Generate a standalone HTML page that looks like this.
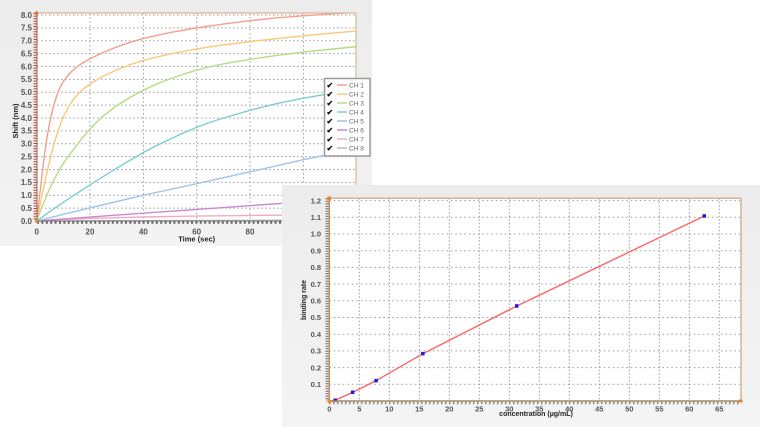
<!DOCTYPE html>
<html>
<head>
<meta charset="utf-8">
<style>
html,body{margin:0;padding:0;background:#fff;}
svg{display:block;}
text{font-family:"Liberation Sans",Arial,sans-serif;}
</style>
</head>
<body>
<svg width="760" height="427" viewBox="0 0 760 427" xmlns="http://www.w3.org/2000/svg">
<defs>
  <linearGradient id="gp1" x1="0" y1="0" x2="0" y2="1">
    <stop offset="0" stop-color="#ececec"/>
    <stop offset="1" stop-color="#f3f3f3"/>
  </linearGradient>
  <linearGradient id="gp2" x1="0" y1="0" x2="0" y2="1">
    <stop offset="0" stop-color="#ececec"/>
    <stop offset="1" stop-color="#f4f4f4"/>
  </linearGradient>
  <clipPath id="c1"><rect x="37" y="13" width="319" height="208"/></clipPath>
  <clipPath id="c2"><rect x="329.3" y="198.3" width="411.7" height="202.7"/></clipPath>
</defs>

<rect x="0" y="0" width="760" height="427" fill="#fff"/>

<!-- ================= TOP CHART ================= -->
<rect x="0" y="0" width="372" height="246" fill="url(#gp1)"/>
<rect x="37" y="13" width="319" height="208" fill="#fff"/>

<g stroke="#9a9a9a" stroke-width="1" stroke-dasharray="1.5 2.5" fill="none">
  <line x1="37" x2="356" y1="208.1" y2="208.1"/>
  <line x1="37" x2="356" y1="195.25" y2="195.25"/>
  <line x1="37" x2="356" y1="182.4" y2="182.4"/>
  <line x1="37" x2="356" y1="169.5" y2="169.5"/>
  <line x1="37" x2="356" y1="156.6" y2="156.6"/>
  <line x1="37" x2="356" y1="143.75" y2="143.75"/>
  <line x1="37" x2="356" y1="130.9" y2="130.9"/>
  <line x1="37" x2="356" y1="118" y2="118"/>
  <line x1="37" x2="356" y1="105.1" y2="105.1"/>
  <line x1="37" x2="356" y1="92.25" y2="92.25"/>
  <line x1="37" x2="356" y1="79.4" y2="79.4"/>
  <line x1="37" x2="356" y1="66.5" y2="66.5"/>
  <line x1="37" x2="356" y1="53.6" y2="53.6"/>
  <line x1="37" x2="356" y1="40.75" y2="40.75"/>
  <line x1="37" x2="356" y1="27.9" y2="27.9"/>
  <line x1="37" x2="356" y1="15" y2="15"/>
  <line y1="13" y2="221" x1="90" x2="90"/>
  <line y1="13" y2="221" x1="143.4" x2="143.4"/>
  <line y1="13" y2="221" x1="196.7" x2="196.7"/>
  <line y1="13" y2="221" x1="250" x2="250"/>
  <line y1="13" y2="221" x1="303.4" x2="303.4"/>
</g>

<g clip-path="url(#c1)">
 <g transform="translate(36.7 221) scale(2.6667 -25.75)" fill="none" stroke-width="1.4" stroke-linejoin="round" stroke-linecap="round">
  <polyline vector-effect="non-scaling-stroke" stroke="#bdbdbd" points="0,0 120,0.04"/>
  <polyline vector-effect="non-scaling-stroke" stroke="#f6a8c8" points="0,0 10,0.06 20,0.1 40,0.155 60,0.19 90,0.225 120,0.26"/>
  <polyline vector-effect="non-scaling-stroke" stroke="#c88ad0" points="0,0 30,0.23 60,0.45 90,0.67 120,0.89"/>
  <polyline vector-effect="non-scaling-stroke" stroke="#9cc4ec" points="0,0 10,0.26 20,0.51 40,1.0 60,1.45 80,1.91 100,2.38 120,2.8"/>
  <polyline vector-effect="non-scaling-stroke" stroke="#7ccfcf" points="0,0 5,0.37 10,0.73 15,1.07 20,1.4 25,1.73 30,2.05 35,2.36 40,2.66 45,2.93 50,3.18 55,3.42 60,3.64 65,3.83 70,4.0 80,4.3 90,4.56 100,4.77 110,4.95 120,5.1"/>
  <polyline vector-effect="non-scaling-stroke" stroke="#b5dc84" points="0,0 2,0.55 4,1.05 6,1.5 8,1.9 10,2.24 13,2.67 16,3.08 19.4,3.5 22,3.79 25,4.08 30,4.48 35,4.8 40,5.08 45,5.32 50,5.52 55,5.7 60,5.86 65,5.99 70,6.1 80,6.28 90,6.43 100,6.56 110,6.67 120,6.77"/>
  <polyline vector-effect="non-scaling-stroke" stroke="#fdc77a" points="0,0 1,0.5 2,1.0 3,1.5 4,1.96 5,2.4 6,2.8 7,3.17 8,3.5 9,3.79 10,4.04 12,4.45 14,4.76 17,5.08 20,5.32 25,5.63 30,5.87 35,6.07 40,6.24 50,6.49 60,6.68 70,6.84 80,6.97 90,7.08 100,7.19 110,7.29 120,7.38"/>
  <polyline vector-effect="non-scaling-stroke" stroke="#f4a08c" points="0,0 1,0.9 2,1.8 3,2.63 4,3.33 5,3.88 6,4.33 7,4.7 8,5.0 9,5.23 10,5.42 11.5,5.63 13,5.8 15,5.98 17,6.12 20,6.3 25,6.55 30,6.76 35,6.94 40,7.09 50,7.32 60,7.5 70,7.65 80,7.78 90,7.89 100,7.97 110,8.04 120,8.1"/>
 </g>
</g>

<line x1="37" y1="13" x2="356" y2="13" stroke="#d8b898" stroke-width="1.2"/>
<line x1="356" y1="13" x2="356" y2="221" stroke="#d8b898" stroke-width="1.2"/>
<line x1="37" y1="13" x2="37" y2="221" stroke="#8a6a5a" stroke-width="1"/>
<line x1="35" y1="13" x2="35" y2="221" stroke="#c0402c" stroke-width="3" stroke-dasharray="1 1.6"/>
<line x1="37" y1="221" x2="356" y2="221" stroke="#777" stroke-width="1"/>
<line x1="37" y1="222.5" x2="356" y2="222.5" stroke="#666" stroke-width="2.5" stroke-dasharray="2 2.4"/>
<rect x="35" y="11.5" width="3" height="3" fill="#e86a30"/>
<rect x="35" y="219.5" width="3" height="3" fill="#e8902c"/>

<g font-size="8" font-weight="bold" fill="#555" text-anchor="end">
  <text x="32" y="223.8">0.0</text>
  <text x="32" y="211">0.5</text>
  <text x="32" y="198.1">1.0</text>
  <text x="32" y="185.2">1.5</text>
  <text x="32" y="172.3">2.0</text>
  <text x="32" y="159.4">2.5</text>
  <text x="32" y="146.6">3.0</text>
  <text x="32" y="133.7">3.5</text>
  <text x="32" y="120.8">4.0</text>
  <text x="32" y="107.9">4.5</text>
  <text x="32" y="95.1">5.0</text>
  <text x="32" y="82.2">5.5</text>
  <text x="32" y="69.3">6.0</text>
  <text x="32" y="56.4">6.5</text>
  <text x="32" y="43.6">7.0</text>
  <text x="32" y="30.7">7.5</text>
  <text x="32" y="17.8">8.0</text>
</g>
<g font-size="8" font-weight="bold" fill="#555" text-anchor="middle">
  <text x="36.7" y="234.5">0</text>
  <text x="90" y="234.5">20</text>
  <text x="143.4" y="234.5">40</text>
  <text x="196.7" y="234.5">60</text>
  <text x="250" y="234.5">80</text>
  <text x="303.4" y="234.5">100</text>
</g>
<text x="196.7" y="241.5" font-size="7.5" font-weight="bold" fill="#222" text-anchor="middle">Time (sec)</text>
<text transform="translate(18 121) rotate(-90)" font-size="7.5" font-weight="bold" fill="#222" text-anchor="middle">Shift (nm)</text>

<rect x="324.5" y="78.5" width="45.5" height="77.5" fill="#fff" stroke="#9a9a9a" stroke-width="1.5"/>
<g font-size="8" fill="#111" font-weight="bold">
  <text x="326.5" y="88">✔</text>
  <text x="326.5" y="97">✔</text>
  <text x="326.5" y="106">✔</text>
  <text x="326.5" y="115">✔</text>
  <text x="326.5" y="124">✔</text>
  <text x="326.5" y="133">✔</text>
  <text x="326.5" y="142">✔</text>
  <text x="326.5" y="151">✔</text>
</g>
<g stroke-width="1.5">
  <line x1="337" x2="347" y1="85" y2="85" stroke="#f4a08c"/>
  <line x1="337" x2="347" y1="94" y2="94" stroke="#fdc77a"/>
  <line x1="337" x2="347" y1="103" y2="103" stroke="#b5dc84"/>
  <line x1="337" x2="347" y1="112" y2="112" stroke="#7ccfcf"/>
  <line x1="337" x2="347" y1="121" y2="121" stroke="#9cc4ec"/>
  <line x1="337" x2="347" y1="130" y2="130" stroke="#c88ad0"/>
  <line x1="337" x2="347" y1="139" y2="139" stroke="#f6a8c8"/>
  <line x1="337" x2="347" y1="148" y2="148" stroke="#bdbdbd"/>
</g>
<g font-size="6.5" fill="#666">
  <text x="349" y="87.3">CH 1</text>
  <text x="349" y="96.3">CH 2</text>
  <text x="349" y="105.3">CH 3</text>
  <text x="349" y="114.3">CH 4</text>
  <text x="349" y="123.3">CH 5</text>
  <text x="349" y="132.3">CH 6</text>
  <text x="349" y="141.3">CH 7</text>
  <text x="349" y="150.3">CH 8</text>
</g>

<!-- ================= BOTTOM CHART ================= -->
<rect x="282" y="185" width="478" height="242" fill="url(#gp2)"/>
<rect x="329.3" y="198.3" width="411.7" height="202.7" fill="#fff"/>

<g stroke="#9a9a9a" stroke-width="1" stroke-dasharray="1.5 3" fill="none">
  <line x1="329.3" x2="741" y1="384.3" y2="384.3"/>
  <line x1="329.3" x2="741" y1="367.6" y2="367.6"/>
  <line x1="329.3" x2="741" y1="350.9" y2="350.9"/>
  <line x1="329.3" x2="741" y1="334.2" y2="334.2"/>
  <line x1="329.3" x2="741" y1="317.5" y2="317.5"/>
  <line x1="329.3" x2="741" y1="300.8" y2="300.8"/>
  <line x1="329.3" x2="741" y1="284.1" y2="284.1"/>
  <line x1="329.3" x2="741" y1="267.4" y2="267.4"/>
  <line x1="329.3" x2="741" y1="250.7" y2="250.7"/>
  <line x1="329.3" x2="741" y1="234" y2="234"/>
  <line x1="329.3" x2="741" y1="217.3" y2="217.3"/>
  <line x1="329.3" x2="741" y1="200.6" y2="200.6"/>
</g>
<g stroke="#9a9a9a" stroke-width="1" stroke-dasharray="1.5 2" fill="none">
  <line y1="198.3" y2="401" x1="359.3" x2="359.3"/>
  <line y1="198.3" y2="401" x1="389.3" x2="389.3"/>
  <line y1="198.3" y2="401" x1="419.3" x2="419.3"/>
  <line y1="198.3" y2="401" x1="449.3" x2="449.3"/>
  <line y1="198.3" y2="401" x1="479.3" x2="479.3"/>
  <line y1="198.3" y2="401" x1="509.3" x2="509.3"/>
  <line y1="198.3" y2="401" x1="539.3" x2="539.3"/>
  <line y1="198.3" y2="401" x1="569.3" x2="569.3"/>
  <line y1="198.3" y2="401" x1="599.3" x2="599.3"/>
  <line y1="198.3" y2="401" x1="629.3" x2="629.3"/>
  <line y1="198.3" y2="401" x1="659.3" x2="659.3"/>
  <line y1="198.3" y2="401" x1="689.3" x2="689.3"/>
  <line y1="198.3" y2="401" x1="719.3" x2="719.3"/>
</g>

<g clip-path="url(#c2)">
  <polyline fill="none" stroke="#ff6464" stroke-width="1.4" stroke-linejoin="round"
    points="329.3,401 335.2,400.2 352.7,392.3 376.1,380.7 422.9,353.7 516.8,306 704.3,216"/>
</g>
<g fill="#1c1cd8">
  <rect x="333.5" y="398.5" width="3.5" height="3.5"/>
  <rect x="350.9" y="390.5" width="3.5" height="3.5"/>
  <rect x="374.3" y="378.9" width="3.5" height="3.5"/>
  <rect x="421.1" y="351.9" width="3.5" height="3.5"/>
  <rect x="515" y="304.2" width="3.5" height="3.5"/>
  <rect x="702.5" y="214.2" width="3.5" height="3.5"/>
</g>

<line x1="329.3" y1="198.3" x2="741" y2="198.3" stroke="#d4b498" stroke-width="1.5"/>
<line x1="741" y1="198.3" x2="741" y2="401" stroke="#d4b498" stroke-width="1.5"/>
<line x1="327" y1="198.3" x2="327" y2="401" stroke="#666" stroke-width="3" stroke-dasharray="1 1.5"/>
<line x1="329.3" y1="198.3" x2="329.3" y2="401" stroke="#c89060" stroke-width="1.5"/>
<line x1="329.3" y1="403" x2="741" y2="403" stroke="#555" stroke-width="2.5" stroke-dasharray="1 3"/>
<line x1="329.3" y1="401" x2="741" y2="401" stroke="#a88868" stroke-width="1.6"/>
<rect x="327.5" y="196.5" width="3.5" height="3.5" fill="#f08020"/>
<rect x="739" y="399.5" width="3.5" height="3" fill="#f08020"/>
<rect x="327.5" y="399.5" width="3.5" height="3.5" fill="#f09020"/>

<g font-size="7.5" font-weight="bold" fill="#555" text-anchor="end">
  <text x="321" y="387">0.1</text>
  <text x="321" y="370.3">0.2</text>
  <text x="321" y="353.6">0.3</text>
  <text x="321" y="336.9">0.4</text>
  <text x="321" y="320.2">0.5</text>
  <text x="321" y="303.5">0.6</text>
  <text x="321" y="286.8">0.7</text>
  <text x="321" y="270.1">0.8</text>
  <text x="321" y="253.4">0.9</text>
  <text x="321" y="236.7">1.0</text>
  <text x="321" y="220">1.1</text>
  <text x="321" y="203.3">1.2</text>
</g>
<g font-size="7.5" font-weight="bold" fill="#555" text-anchor="middle">
  <text x="329.3" y="411.7">0</text>
  <text x="359.3" y="411.7">5</text>
  <text x="389.3" y="411.7">10</text>
  <text x="419.3" y="411.7">15</text>
  <text x="449.3" y="411.7">20</text>
  <text x="479.3" y="411.7">25</text>
  <text x="509.3" y="411.7">30</text>
  <text x="539.3" y="411.7">35</text>
  <text x="569.3" y="411.7">40</text>
  <text x="599.3" y="411.7">45</text>
  <text x="629.3" y="411.7">50</text>
  <text x="659.3" y="411.7">55</text>
  <text x="689.3" y="411.7">60</text>
  <text x="719.3" y="411.7">65</text>
</g>
<text x="536" y="415.8" font-size="7" font-weight="bold" fill="#222" text-anchor="middle">concentration (µg/mL)</text>
<text transform="translate(306 300) rotate(-90)" font-size="7" font-weight="bold" fill="#222" text-anchor="middle">binding rate</text>
</svg>
</body>
</html>
